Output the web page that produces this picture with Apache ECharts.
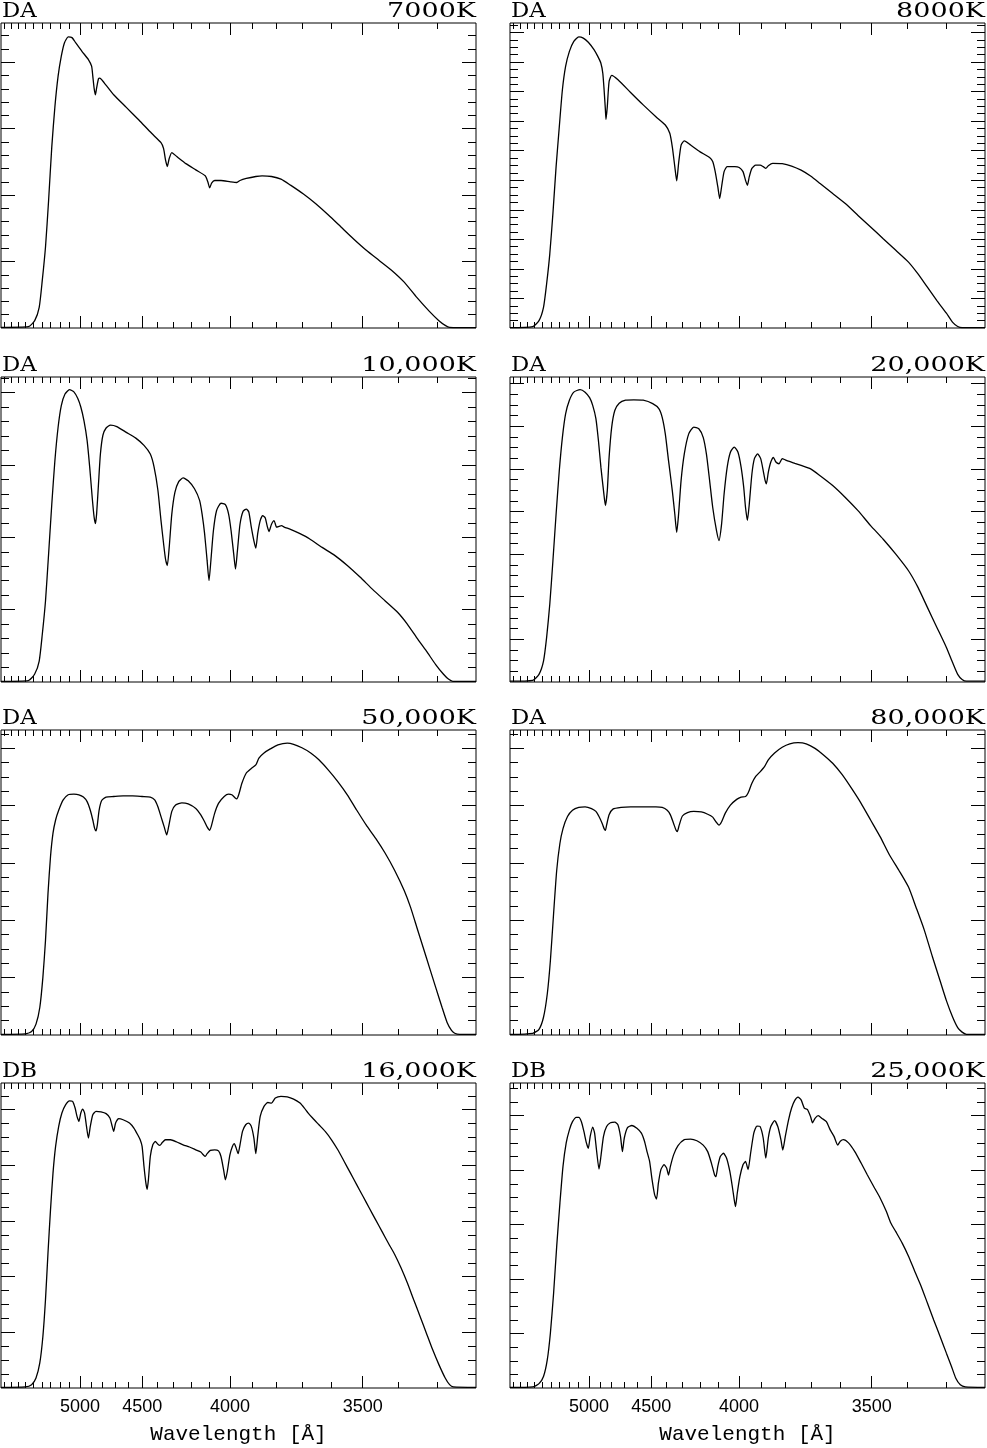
<!DOCTYPE html>
<html>
<head>
<meta charset="utf-8">
<script src="https://cdn.jsdelivr.net/npm/echarts@6/dist/echarts.min.js"></script>
<style>
  html, body { margin: 0; padding: 0; background: #fff; }
  #chart { width: 987px; height: 1448px; }
</style>
</head>
<body>
<div id="chart"></div>
<script>
  // x = detector column along the spectrum, y = flux (arbitrary units, 1 = one major tick)
  const spec7000 = [[0,0.01],[27.4,0.02],[33.7,0.11],[38.2,0.31],[41.3,0.72],[44.5,1.22],[47.6,1.92],[50.8,2.73],[53.9,3.33],[57.1,3.79],[60.3,4.09],[63.4,4.29],[67.2,4.38],[71.0,4.37],[74.8,4.29],[81.1,4.16],[87.4,4.04],[90.6,3.94],[91.8,3.79],[93.1,3.61],[94.4,3.51],[95.6,3.61],[97.5,3.75],[98.8,3.76],[103.2,3.69],[112.7,3.51],[125.3,3.32],[137.9,3.13],[150.6,2.93],[160.0,2.79],[162.6,2.70],[164.5,2.53],[166.3,2.43],[168.2,2.55],[170.8,2.64],[175.8,2.58],[185.3,2.47],[194.8,2.38],[204.2,2.29],[206.8,2.20],[208.7,2.11],[210.6,2.18],[213.7,2.22],[220.0,2.22],[229.5,2.20],[235.8,2.19],[239.0,2.22],[245.3,2.25],[254.8,2.28],[261.1,2.29],[270.5,2.28],[280.0,2.24],[289.5,2.15],[302.1,2.02],[314.8,1.87],[327.4,1.70],[340.0,1.52],[352.6,1.34],[365.3,1.17],[377.9,1.02],[390.5,0.87],[403.2,0.69],[415.8,0.46],[428.4,0.25],[437.9,0.11],[444.2,0.04],[448.6,0.01],[475,0.005]];

  const spec8000 = [[0,0.01],[22.7,0.05],[29.0,0.25],[33.5,0.70],[36.6,1.49],[39.8,2.51],[42.9,3.87],[46.1,5.46],[49.3,6.81],[52.4,8.06],[55.6,8.85],[59.4,9.36],[63.8,9.70],[68.8,9.85],[73.3,9.81],[78.3,9.67],[84.0,9.42],[87.8,9.19],[90.9,8.96],[92.8,8.62],[94.1,8.06],[95.4,7.38],[96.0,7.06],[97.3,7.49],[99.1,8.34],[101.7,8.55],[108.0,8.40],[120.6,7.97],[133.2,7.55],[145.9,7.15],[155.3,6.87],[159.8,6.59],[162.3,6.13],[164.8,5.46],[166.7,4.98],[168.6,5.57],[171.1,6.19],[174.3,6.33],[180.6,6.19],[190.1,5.96],[199.6,5.77],[202.7,5.63],[205.2,5.29],[207.8,4.78],[209.7,4.38],[211.6,4.78],[214.1,5.29],[217.2,5.46],[224.8,5.46],[229.2,5.43],[233.0,5.29],[235.5,5.00],[237.4,4.83],[239.3,5.12],[241.9,5.40],[245.7,5.51],[250.1,5.51],[253.2,5.46],[255.8,5.40],[258.3,5.49],[262.7,5.57],[272.2,5.56],[281.6,5.48],[291.1,5.34],[300.6,5.14],[310.1,4.89],[322.7,4.55],[335.3,4.21],[348.0,3.81],[360.6,3.42],[373.2,3.02],[385.8,2.63],[398.5,2.23],[408.0,1.83],[417.4,1.38],[426.9,0.93],[436.4,0.50],[442.7,0.19],[447.7,0.05],[452.1,0.01],[475,0.01]];

  const spec10000 = [[0,0.01],[27.4,0.02],[33.7,0.11],[38.2,0.29],[41.3,0.66],[44.5,1.12],[47.6,1.77],[50.8,2.46],[53.9,3.06],[57.1,3.52],[60.3,3.82],[64.0,3.98],[68.5,4.04],[72.9,4.01],[76.7,3.92],[79.8,3.80],[83.0,3.61],[86.1,3.34],[88.7,2.97],[91.2,2.55],[93.1,2.28],[94.4,2.19],[95.6,2.32],[97.5,2.74],[99.4,3.15],[101.9,3.41],[105.1,3.51],[109.5,3.55],[115.8,3.53],[125.3,3.45],[134.8,3.37],[143.0,3.27],[149.3,3.15],[153.1,2.97],[156.9,2.65],[160.0,2.23],[162.6,1.91],[164.5,1.70],[166.3,1.61],[168.2,1.86],[170.8,2.32],[173.9,2.62],[177.7,2.77],[182.1,2.82],[187.2,2.78],[193.5,2.67],[198.6,2.51],[201.1,2.32],[203.6,2.05],[206.1,1.68],[208.0,1.40],[209.9,1.68],[212.4,2.09],[215.6,2.37],[220.0,2.47],[224.4,2.45],[227.6,2.32],[230.1,2.09],[232.7,1.77],[234.5,1.56],[236.4,1.81],[239.0,2.18],[242.1,2.36],[245.3,2.39],[247.8,2.35],[250.3,2.14],[252.9,1.95],[254.8,1.85],[256.7,2.05],[259.2,2.23],[261.7,2.30],[264.2,2.27],[266.1,2.16],[268.0,2.08],[270.5,2.18],[273.1,2.23],[275.6,2.14],[278.1,2.15],[280.6,2.16],[283.2,2.14],[289.5,2.11],[299.0,2.05],[308.4,1.98],[321.1,1.86],[333.7,1.75],[346.3,1.61],[359.0,1.45],[371.6,1.28],[384.2,1.12],[396.8,0.96],[406.3,0.80],[415.8,0.61],[425.3,0.43],[434.7,0.24],[442.3,0.11],[447.4,0.04],[451.8,0.01],[475,0.01]];

  const spec20000 = [[0,0.02],[22.7,0.04],[29.0,0.18],[33.5,0.49],[36.6,1.04],[39.8,1.83],[42.9,2.84],[46.1,3.94],[49.3,4.96],[52.4,5.74],[55.6,6.29],[59.4,6.61],[63.8,6.80],[70.1,6.86],[75.1,6.80],[79.6,6.67],[82.7,6.49],[85.9,6.18],[88.4,5.67],[90.9,5.04],[93.5,4.49],[95.4,4.14],[97.3,4.49],[99.1,5.27],[101.7,5.98],[104.8,6.37],[109.2,6.54],[115.6,6.61],[123.8,6.62],[133.2,6.61],[142.7,6.53],[149.0,6.41],[152.2,6.21],[155.3,5.82],[158.5,5.20],[162.3,4.49],[164.8,3.94],[166.7,3.51],[168.6,3.94],[171.1,4.73],[174.3,5.35],[178.7,5.82],[183.8,5.98],[188.8,5.94],[193.2,5.74],[196.4,5.35],[199.6,4.73],[202.7,4.10],[206.5,3.55],[209.0,3.32],[211.6,3.71],[214.1,4.41],[217.2,5.04],[220.4,5.39],[224.2,5.51],[228.0,5.39],[231.1,5.04],[233.7,4.57],[235.5,4.10],[237.4,3.79],[239.3,4.18],[241.9,4.88],[244.4,5.24],[247.6,5.35],[250.7,5.24],[253.2,4.96],[255.1,4.73],[256.4,4.65],[258.3,4.92],[260.8,5.16],[263.4,5.27],[265.9,5.16],[269.0,5.12],[272.2,5.24],[275.3,5.21],[278.5,5.18],[284.8,5.13],[291.1,5.08],[300.6,5.00],[310.1,4.84],[322.7,4.61],[335.3,4.33],[348.0,4.02],[360.6,3.67],[373.2,3.35],[385.8,3.00],[398.5,2.61],[408.0,2.22],[417.4,1.75],[426.9,1.28],[436.4,0.81],[442.7,0.45],[447.7,0.18],[452.1,0.06],[456.5,0.02],[475,0.02]];

  const spec50000 = [[0,0.01],[24.3,0.02],[30.6,0.06],[35.0,0.19],[38.8,0.48],[41.9,1.01],[44.5,1.65],[47.0,2.47],[49.5,3.11],[52.0,3.52],[54.6,3.75],[57.7,3.92],[62.2,4.10],[67.2,4.19],[72.9,4.20],[77.9,4.19],[82.4,4.15],[86.1,4.07],[89.3,3.92],[91.8,3.75],[93.7,3.60],[95.0,3.56],[96.3,3.66],[98.1,3.92],[100.7,4.09],[105.1,4.15],[112.7,4.16],[122.1,4.17],[131.6,4.17],[141.1,4.16],[149.3,4.15],[153.7,4.10],[156.9,3.98],[160.0,3.81],[163.2,3.63],[165.7,3.49],[167.6,3.63],[170.8,3.90],[174.6,4.01],[180.9,4.05],[187.2,4.03],[194.8,3.95],[199.8,3.84],[203.6,3.72],[206.1,3.63],[208.7,3.57],[210.6,3.66],[213.7,3.87],[217.5,4.04],[223.2,4.16],[227.6,4.20],[230.8,4.19],[233.9,4.14],[235.8,4.12],[237.7,4.19],[240.9,4.39],[245.3,4.57],[250.3,4.65],[254.8,4.71],[257.9,4.83],[263.0,4.92],[269.3,4.99],[276.9,5.06],[286.3,5.09],[292.6,5.07],[300.9,5.01],[309.7,4.92],[317.9,4.80],[327.4,4.62],[336.8,4.42],[346.3,4.19],[355.8,3.92],[365.3,3.66],[374.7,3.43],[384.2,3.17],[393.7,2.87],[403.2,2.52],[409.5,2.23],[415.8,1.88],[422.1,1.53],[428.4,1.18],[434.7,0.83],[441.1,0.48],[446.1,0.22],[450.5,0.08],[453.7,0.03],[458.7,0.01],[475,0.01]];

  const spec80000 = [[0,0.01],[22.7,0.03],[29.0,0.10],[33.5,0.31],[37.3,0.72],[40.4,1.30],[43.6,2.12],[46.7,2.87],[49.9,3.34],[53.0,3.60],[57.5,3.81],[62.5,3.92],[68.8,3.97],[75.1,3.98],[81.5,3.95],[85.9,3.90],[89.0,3.81],[92.2,3.69],[94.1,3.60],[95.4,3.57],[96.6,3.66],[99.1,3.84],[102.9,3.94],[111.1,3.97],[120.6,3.98],[133.2,3.98],[145.9,3.98],[152.2,3.97],[157.2,3.92],[160.4,3.84],[163.6,3.69],[166.1,3.57],[167.3,3.55],[169.2,3.66],[172.4,3.82],[177.5,3.88],[183.8,3.90],[191.3,3.89],[197.7,3.85],[202.7,3.80],[205.9,3.72],[209.0,3.66],[211.6,3.72],[215.3,3.87],[220.4,4.01],[226.7,4.11],[231.1,4.15],[235.5,4.16],[238.1,4.22],[241.9,4.39],[245.7,4.51],[250.1,4.59],[254.5,4.68],[258.3,4.80],[264.6,4.92],[272.2,5.02],[279.8,5.08],[288.0,5.10],[296.2,5.08],[305.0,5.00],[313.2,4.89],[322.7,4.74],[332.2,4.54],[341.6,4.30],[351.1,4.04],[360.6,3.75],[370.1,3.46],[379.5,3.14],[389.0,2.87],[398.5,2.58],[406.0,2.23],[414.3,1.83],[422.5,1.36],[430.0,0.95],[436.4,0.60],[442.7,0.31],[447.7,0.13],[452.1,0.05],[456.5,0.01],[475,0.01]];

  const spec16000 = [[0,0.01],[24.3,0.02],[30.6,0.06],[35.0,0.18],[38.8,0.45],[41.9,0.93],[44.5,1.59],[47.0,2.43],[49.5,3.20],[52.0,3.86],[54.6,4.34],[57.7,4.70],[60.9,4.94],[64.7,5.09],[68.5,5.16],[71.6,5.15],[74.1,5.03],[76.0,4.88],[77.9,4.79],[79.8,4.94],[81.7,5.01],[83.6,4.94],[85.5,4.70],[87.4,4.49],[89.3,4.70],[91.8,4.91],[95.0,4.97],[100.0,4.96],[105.1,4.93],[108.9,4.85],[110.8,4.73],[112.7,4.61],[114.6,4.76],[117.7,4.84],[122.1,4.82],[128.5,4.76],[132.9,4.67],[136.7,4.55],[139.2,4.46],[141.1,4.34],[143.0,3.98],[144.9,3.68],[146.1,3.57],[147.4,3.74],[149.3,4.16],[151.8,4.37],[154.3,4.43],[156.9,4.38],[158.8,4.36],[161.3,4.41],[164.5,4.46],[169.5,4.46],[175.8,4.42],[182.1,4.37],[188.5,4.33],[194.8,4.28],[199.8,4.24],[202.3,4.19],[204.2,4.16],[206.1,4.21],[209.3,4.27],[213.7,4.28],[217.5,4.26],[220.0,4.16],[222.6,3.92],[224.4,3.74],[226.3,3.89],[228.9,4.19],[231.4,4.34],[233.3,4.39],[235.2,4.31],[237.1,4.21],[239.0,4.37],[241.5,4.61],[244.7,4.73],[247.8,4.76],[250.3,4.70],[252.9,4.49],[254.8,4.21],[256.7,4.52],[259.2,4.88],[263.0,5.06],[266.8,5.13],[270.5,5.12],[274.3,5.21],[280.0,5.24],[286.3,5.23],[292.6,5.19],[299.0,5.12],[303.4,5.03],[307.2,4.94],[311.6,4.85],[317.9,4.73],[324.2,4.61],[330.5,4.46],[336.8,4.28],[343.2,4.07],[349.5,3.86],[355.8,3.65],[362.1,3.44],[368.4,3.23],[374.7,3.02],[381.1,2.81],[387.4,2.60],[393.7,2.40],[400.0,2.16],[406.3,1.89],[412.6,1.59],[419.0,1.29],[425.3,0.99],[431.6,0.69],[437.9,0.42],[444.2,0.18],[448.6,0.06],[452.4,0.02],[475,0.01]];

  const spec25000 = [[0,0.01],[22.7,0.02],[29.0,0.08],[33.5,0.21],[37.3,0.52],[40.4,1.01],[43.6,1.74],[46.7,2.60],[49.9,3.39],[53.0,4.07],[56.2,4.50],[59.4,4.74],[62.5,4.89],[66.3,4.97],[68.8,4.97],[71.4,4.89],[73.9,4.71],[76.4,4.50],[78.3,4.40],[80.2,4.62],[82.7,4.79],[84.6,4.68],[86.5,4.37],[89.0,4.02],[90.9,4.25],[93.5,4.62],[96.6,4.80],[100.4,4.87],[104.8,4.88],[108.0,4.83],[110.5,4.62],[112.4,4.34],[114.3,4.59],[117.5,4.78],[121.9,4.82],[126.9,4.77],[131.4,4.68],[134.5,4.53],[137.0,4.34],[139.6,4.16],[142.1,3.82],[144.6,3.55],[146.5,3.47],[148.4,3.76],[150.9,4.01],[154.1,4.10],[156.6,4.04],[158.5,3.91],[160.4,4.07],[163.6,4.28],[168.0,4.45],[174.3,4.56],[180.6,4.57],[186.9,4.54],[193.2,4.46],[197.7,4.34],[201.4,4.13],[204.6,3.91],[205.9,3.88],[207.8,4.07],[210.3,4.25],[213.4,4.31],[216.6,4.22],[219.8,3.98],[222.3,3.70],[224.2,3.46],[225.5,3.33],[227.3,3.58],[229.9,3.88],[233.0,4.10],[235.5,4.16],[238.1,4.01],[240.6,4.31],[243.8,4.68],[246.9,4.81],[250.1,4.80],[253.2,4.59],[255.8,4.22],[258.3,4.59],[260.8,4.80],[264.6,4.91],[267.8,4.80],[270.9,4.56],[272.8,4.37],[275.3,4.62],[278.5,4.92],[281.6,5.14],[284.8,5.28],[288.0,5.34],[291.1,5.29],[294.3,5.14],[297.5,5.11],[300.6,4.98],[302.5,4.87],[305.0,4.95],[308.2,5.00],[312.0,4.95],[316.4,4.89],[320.2,4.74],[324.0,4.62],[327.7,4.46],[330.3,4.53],[333.4,4.56],[338.5,4.50],[344.8,4.34],[351.1,4.13],[357.4,3.91],[363.7,3.70],[370.1,3.49],[376.4,3.24],[380.8,3.03],[385.8,2.87],[392.2,2.66],[398.5,2.42],[404.8,2.14],[411.1,1.87],[417.4,1.56],[423.7,1.25],[430.0,0.95],[436.4,0.64],[441.4,0.40],[445.8,0.18],[450.3,0.06],[455.3,0.02],[475,0.01]];

  // panels in reading order (row by row)
  const spectra = [spec7000, spec8000, spec10000, spec20000, spec50000, spec80000, spec16000, spec25000];
  const classes = ['DA', 'DA', 'DA', 'DA', 'DA', 'DA', 'DB', 'DB'];
  const temps = ['7000K', '8000K', '10,000K', '20,000K', '50,000K', '80,000K', '16,000K', '25,000K'];
  const yTops = [4.59, 10.32, 4.215, 7.155, 5.32, 5.32, 5.48, 5.6];
  const minorSplits = [5, 4, 5, 4, 4, 4, 4, 4];

  // wavelength ticks
  const majorWaves = [5000, 4500, 4000, 3500];
  const minorWaves = [5900, 5800, 5700, 5600, 5500, 5400, 5300, 5200, 5100, 4900, 4800, 4700, 4600,
    4400, 4300, 4200, 4100, 3900, 3800, 3700, 3600, 3400, 3300];

  // dispersion relation (Hartmann form): wavelength -> detector column
  const DISP_C = 1267720;
  const DISP_L0 = 1550.2;
  const COL_5000 = 79;
  const pixOf = (lam) => COL_5000 + DISP_C * (1 / (lam - DISP_L0) - 1 / (5000 - DISP_L0));

  const X_MAX = 475;
  const PANEL_W = 475;
  const PANEL_H = 305;
  const colLefts = [1, 510];
  const rowTops = [23, 377, 730, 1083];

  const majorPos = majorWaves.map(pixOf);
  const minorPos = minorWaves.map(pixOf);

  const tickStyle = { color: '#000', width: 1 };

  const chart = echarts.init(document.getElementById('chart'), null, { renderer: 'canvas' });

  const grids = [];
  const xAxes = [];
  const yAxes = [];
  const series = [];
  const graphics = [];

  spectra.forEach((data, i) => {
    const col = i % 2;
    const row = Math.floor(i / 2);
    const left = colLefts[col];
    const top = rowTops[row];
    const isBottom = row === 3;

    grids.push({
      left: left, top: top, width: PANEL_W, height: PANEL_H,
      show: true, borderColor: '#000', borderWidth: 1,
      containLabel: false, outerBoundsMode: 'none',
    });

    // axisLine.onZero off, or the top/right axes get pulled onto the zero line
    const xBase = {
      gridIndex: i, type: 'value', min: 0, max: X_MAX,
      axisLine: { show: false, onZero: false }, splitLine: { show: false }, axisLabel: { show: false },
    };
    const xMajorTick = { show: true, inside: true, length: 12, customValues: majorPos, lineStyle: tickStyle };
    const xMinorTick = { show: true, inside: true, length: 6, customValues: minorPos, lineStyle: tickStyle };

    const bottomMajor = { ...xBase, position: 'bottom', axisTick: xMajorTick };
    if (isBottom) {
      bottomMajor.axisLabel = {
        show: true,
        customValues: majorPos,
        margin: 10,
        color: '#000',
        fontFamily: '"Liberation Sans", Arial, sans-serif',
        fontSize: 18,
        formatter: (v) => {
          const k = majorPos.findIndex((p) => Math.abs(p - v) < 0.01);
          return k >= 0 ? String(majorWaves[k]) : '';
        },
      };
      bottomMajor.name = 'Wavelength [Å]';
      bottomMajor.nameLocation = 'middle';
      bottomMajor.nameGap = 46;
      bottomMajor.nameTextStyle = {
        color: '#000',
        fontFamily: '"Liberation Mono", "DejaVu Sans Mono", monospace',
        fontSize: 21,
        verticalAlign: 'middle',
      };
    }
    xAxes.push(
      bottomMajor,
      { ...xBase, position: 'bottom', axisTick: xMinorTick },
      { ...xBase, position: 'top', axisTick: xMajorTick },
      { ...xBase, position: 'top', axisTick: xMinorTick },
    );

    const yTop = yTops[i];
    const split = minorSplits[i];
    const yMajors = [];
    const yMinors = [];
    for (let k = 1; k / split < yTop; k++) {
      if (k % split === 0) yMajors.push(k / split);
      else yMinors.push(k / split);
    }
    const yBase = {
      gridIndex: i, type: 'value', min: 0, max: yTop,
      axisLine: { show: false, onZero: false }, splitLine: { show: false }, axisLabel: { show: false },
    };
    const yMajorTick = { show: true, inside: true, length: 14, customValues: yMajors, lineStyle: tickStyle };
    const yMinorTick = { show: true, inside: true, length: 8, customValues: yMinors, lineStyle: tickStyle };
    yAxes.push(
      { ...yBase, position: 'left', axisTick: yMajorTick },
      { ...yBase, position: 'left', axisTick: yMinorTick },
      { ...yBase, position: 'right', axisTick: yMajorTick },
      { ...yBase, position: 'right', axisTick: yMinorTick },
    );

    series.push({
      type: 'line',
      xAxisIndex: i * 4,
      yAxisIndex: i * 4,
      data: data,
      symbol: 'none',
      smooth: 0.2,
      clip: true,
      silent: true,
      lineStyle: { color: '#000', width: 1.3 },
    });

    // spectral class at upper left, temperature at upper right
    graphics.push(
      {
        type: 'text', x: left + 1, y: top - 11, scaleX: 1.14,
        style: {
          text: classes[i], fill: '#000', font: '20px "DejaVu Serif", serif',
          textAlign: 'left', align: 'left', textVerticalAlign: 'middle', verticalAlign: 'middle',
        },
      },
      {
        type: 'text', x: left + PANEL_W, y: top - 11, scaleX: 1.35,
        style: {
          text: temps[i], fill: '#000', font: '20px "DejaVu Serif", serif',
          textAlign: 'right', align: 'right', textVerticalAlign: 'middle', verticalAlign: 'middle',
        },
      },
    );
  });

  chart.setOption({
    animation: false,
    backgroundColor: '#fff',
    grid: grids,
    xAxis: xAxes,
    yAxis: yAxes,
    series: series,
    graphic: graphics,
  });

  window.addEventListener('resize', () => chart.resize());
</script>
</body>
</html>
